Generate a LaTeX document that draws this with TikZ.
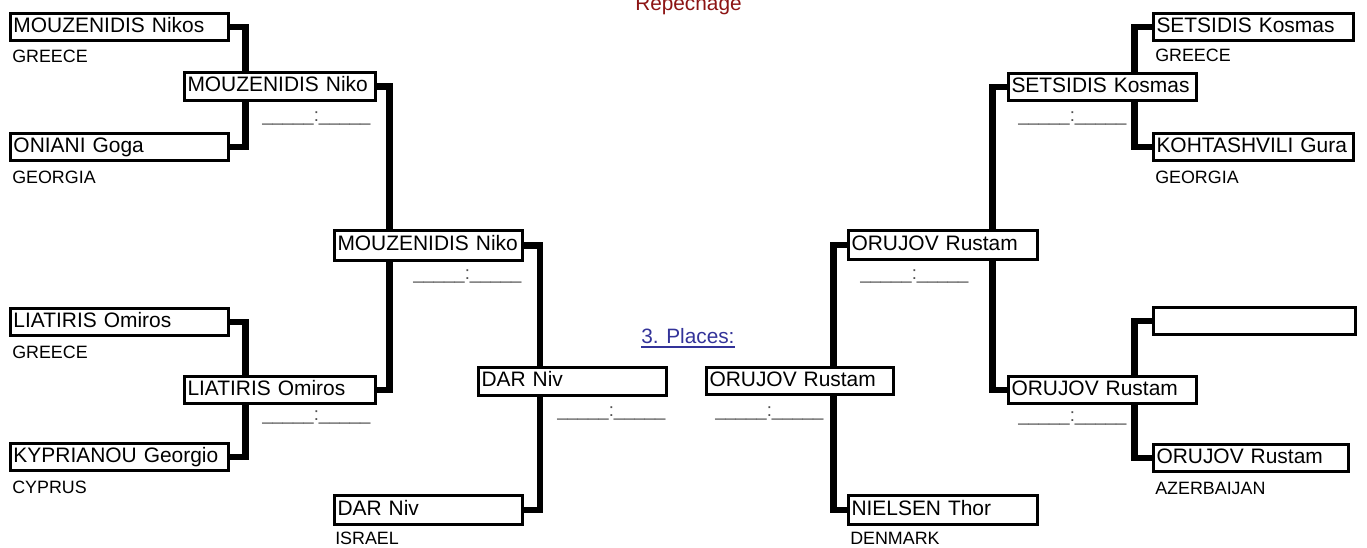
\documentclass[tikz,border=0pt]{standalone}
\usepackage{fontspec}
\setmainfont{Liberation Sans}
\pgfdeclarelayer{bg}
\pgfsetlayers{bg,main}
\definecolor{repred}{RGB}{140,20,20}
\definecolor{placeblue}{RGB}{51,51,153}
\definecolor{scoregray}{RGB}{80,80,80}
\newcommand\pbox[6]{%
  \pgfmathsetmacro\bw{(#4-#2-3)*0.75}%
  \pgfmathsetmacro\bh{(#5-#3-3)*0.75}%
  \pgfmathsetmacro\tw{(#4-#2-9)*0.75}%
  \node[pbox, minimum width=\bw pt, minimum height=\bh pt, text width=\tw pt] (#1) at ({(#2+#4)/2},{(#3+#5)/2}) {#6};}
\begin{document}
\begin{tikzpicture}[x=0.75pt,y=-0.75pt,
  pbox/.style={draw, line width=2.25pt, fill=white, inner xsep=2.25pt, inner ysep=0pt,
    align=left, font=\fontsize{15.7}{18}\selectfont, text height=11.2pt, text depth=3.3pt},
  conn/.style={line width=4.7pt, black},
  country/.style={anchor=west, inner sep=0pt, font=\fontsize{13.4}{15}\selectfont},
  score/.style={anchor=base west, inner sep=0pt, text=scoregray, font=\fontsize{13.9}{16}\selectfont},
  title/.style={anchor=base west, inner sep=0pt, font=\fontsize{15.6}{18}\selectfont}]
\useasboundingbox (0,0) rectangle (1367,547);

% left round 1
\pbox{n1}{9}{12}{230}{42}{MOUZENIDIS Nikos}
\pbox{n2}{9}{132}{230}{162}{ONIANI Goga}
\pbox{n3}{9}{307}{230}{337}{LIATIRIS Omiros}
\pbox{n4}{9}{442}{230}{472}{KYPRIANOU Georgio}
\node[country] (c1) at (12,56) {GREECE};
\node[country] (c2) at (12,177) {GEORGIA};
\node[country] (c3) at (12,352) {GREECE};
\node[country] (c4) at (12,487) {CYPRUS};

% left round 2
\pbox{m2}{183}{71}{377}{102}{MOUZENIDIS Niko}
\pbox{l2}{183}{375}{377}{405}{LIATIRIS Omiros}
\node[score] (sc1) at (262,121) {\_\_\_\_\_:\_\_\_\_\_};
\node[score] (sc2) at (262,420) {\_\_\_\_\_:\_\_\_\_\_};

% left round 3
\pbox{m3}{333}{229}{524}{262}{MOUZENIDIS Niko}
\node[score] (sc3) at (413,279) {\_\_\_\_\_:\_\_\_\_\_};
\pbox{d1}{333}{494}{524}{526}{DAR Niv}
\node[country] (c5) at (335,538.5) {ISRAEL};

% centre
\pbox{dc}{477}{366}{668}{397}{DAR Niv}
\node[score] (sc4) at (557,416) {\_\_\_\_\_:\_\_\_\_\_};
\pbox{oc}{705}{366}{895}{396}{ORUJOV Rustam}
\node[score] (sc5) at (715,416) {\_\_\_\_\_:\_\_\_\_\_};
\node[title, text=placeblue] (pl) at (641,343) {3. Places:};
\node[title, text=repred] (rep) at (635,10.5) {Repechage};

% right round 3
\pbox{o3}{847}{229}{1039}{261}{ORUJOV Rustam}
\node[score] (sc6) at (860,279) {\_\_\_\_\_:\_\_\_\_\_};
\pbox{nt}{847}{494}{1039}{526}{NIELSEN Thor}
\node[country] (c6) at (850,538.5) {DENMARK};

% right round 2
\pbox{s2}{1007}{72}{1198}{102}{SETSIDIS Kosmas}
\pbox{o2}{1007}{375}{1198}{405}{ORUJOV Rustam}
\node[score] (sc7) at (1018,121) {\_\_\_\_\_:\_\_\_\_\_};
\node[score] (sc8) at (1018,421) {\_\_\_\_\_:\_\_\_\_\_};

% right round 1
\pbox{s1}{1152}{12}{1355}{42}{SETSIDIS Kosmas}
\pbox{k1}{1152}{132}{1355}{162}{KOHTASHVILI Gura}
\pbox{e1}{1152}{306}{1357}{336}{}
\pbox{o1}{1152}{443}{1350}{473}{ORUJOV Rustam}
\node[country] (c7) at (1155,55) {GREECE};
\node[country] (c8) at (1155,177) {GEORGIA};
\node[country] (c9) at (1155,488) {AZERBAIJAN};

\begin{pgfonlayer}{bg}
\draw[conn] (n1.east) -- ++(15.5,0) |- (n2.east);
\draw[conn] (n3.east) -- ++(15.5,0) |- (n4.east);
\draw[conn] (m2.east) -- ++(12.5,0) |- (l2.east);
\draw[conn] (m3.east) -- ++(16,0) |- (d1.east);
\draw[conn] (o3.west) -- ++(-13.5,0) |- (nt.west);
\draw[conn] (s2.west) -- ++(-14.5,0) |- (o2.west);
\draw[conn] (s1.west) -- ++(-17.5,0) |- (k1.west);
\draw[conn] (e1.west) -- ++(-17.5,0) |- (o1.west);
\end{pgfonlayer}
\draw[placeblue, line width=1.4pt] ([yshift=-3pt]pl.base west) -- ([yshift=-3pt]pl.base east);
\end{tikzpicture}
\end{document}
